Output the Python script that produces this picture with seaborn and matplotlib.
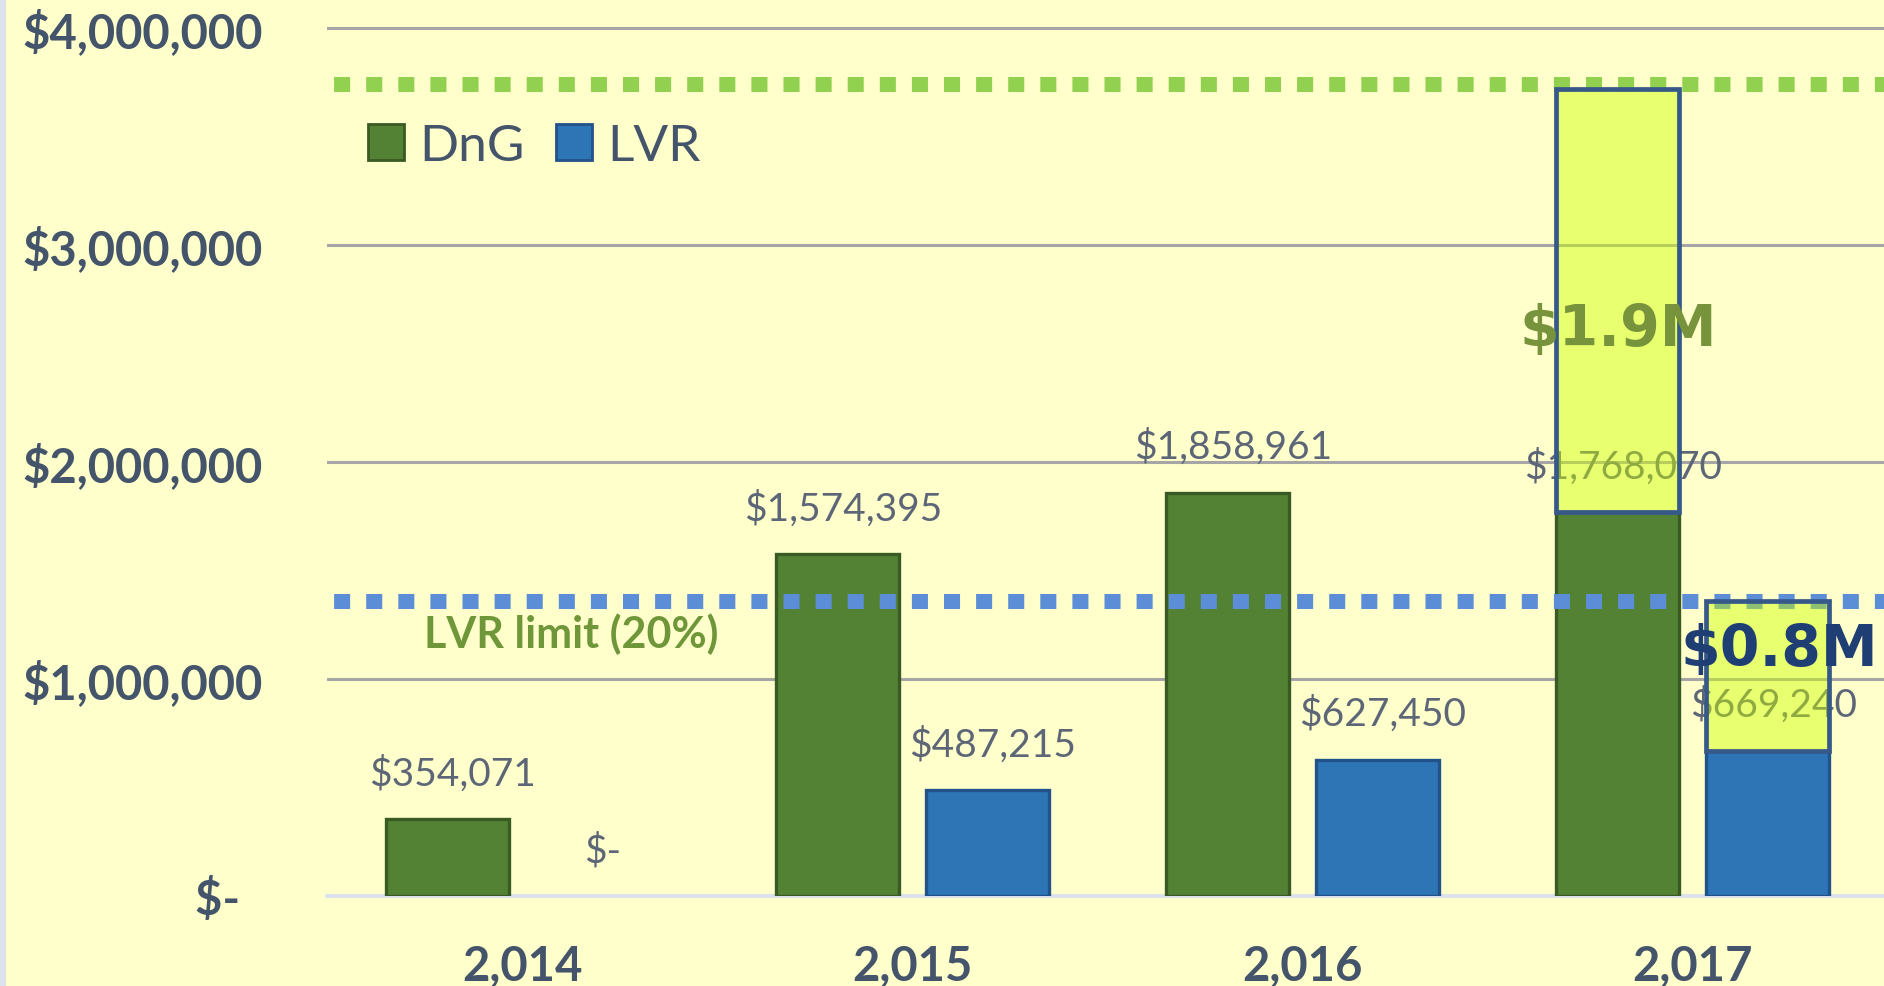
import matplotlib
matplotlib.use("Agg")
import matplotlib.pyplot as plt
import seaborn as sns
import pandas as pd
from matplotlib.patches import Patch, Rectangle
from matplotlib.ticker import FuncFormatter, FixedLocator

# ---- data ----
years = ["2,014", "2,015", "2,016", "2,017"]
series = ["DnG", "LVR"]
dng = [354071, 1574395, 1858961, 1768070]
lvr = [0, 487215, 627450, 669240]
dng_limit = 3740000
lvr_limit = 1360000
gap_tops = [3720000, 1360000]
gap_labels = ["$1.9M", "$0.8M"]
lvr_limit_label = "LVR limit (20%)"
yticks = [0, 1000000, 2000000, 3000000, 4000000]

# ---- style ----
BG = "#FFFFCC"
GREEN = "#548235"
GREEN_EDGE = "#3A5A24"
BLUE = "#2E75B6"
BLUE_EDGE = "#21528A"
TICK_COL = "#44546A"
LABEL_COL = "#5D6677"

sns.set_theme(style="white")
plt.rcParams['font.family'] = ['Lato', 'DejaVu Sans']

df = pd.DataFrame({
    "year": years * 2,
    "series": [series[0]] * len(years) + [series[1]] * len(years),
    "value": dng + lvr,
})

fig = plt.figure(figsize=(18.84, 9.87), dpi=100, facecolor=BG)
fig.patches.append(Rectangle((0, 0), 6 / 1884, 1, transform=fig.transFigure,
                             facecolor="#DCE1EB", edgecolor="none", zorder=0))
ax = fig.add_axes([327 / 1884, 90 / 987, 1 - 327 / 1884, 897 / 987])
ax.set_facecolor(BG)

sns.barplot(data=df, x="year", y="value", hue="series", order=years,
            hue_order=series, palette={"DnG": GREEN, "LVR": BLUE},
            width=0.768, gap=0.18, errorbar=None, legend=False,
            saturation=1, ax=ax, zorder=3)

conts = list(ax.containers)
edges = [GREEN_EDGE, BLUE_EDGE]
values = [dng, lvr]
for ci, cont in enumerate(conts):
    for bar, v in zip(cont.patches, values[ci]):
        bar.set_edgecolor(edges[ci])
        bar.set_linewidth(2.4)
        if v == 0:
            bar.set_visible(False)
        x = bar.get_x() + bar.get_width() / 2
        txt = "$-" if v == 0 else f"${v:,.0f}"
        ax.annotate(txt, (x, v), xytext=(4, 25), textcoords="offset points",
                    ha="center", va="baseline", fontsize=28, color=LABEL_COL,
                    zorder=4)

# gap boxes on the last year
last = len(years) - 1
centers = []
for ci, cont in enumerate(conts):
    bar = cont.patches[last]
    x = bar.get_x() + bar.get_width() / 2
    centers.append(x)
    v = values[ci][last]
    ax.bar(x, gap_tops[ci] - v, bottom=v, width=bar.get_width(),
           color=(0.8, 1.0, 0.0, 0.45), edgecolor="#37598A", linewidth=3.4,
           zorder=6)

# gap labels
ax.text(centers[0], 2610000, gap_labels[0], ha="center", va="center",
        fontsize=41, fontweight="bold", color="#77933C", family="DejaVu Sans",
        zorder=8)
ax.text(centers[1] + 0.03, 1134000, gap_labels[1], ha="center", va="center",
        fontsize=41, fontweight="bold", color="#1F3F74", family="DejaVu Sans",
        zorder=8)

# limit lines
ax.axhline(dng_limit, color="#92D050", lw=10.8, ls=(1.7, (1.07, 1.07)),
           dash_capstyle="butt", zorder=5)
ax.axhline(lvr_limit, color="#5B8ED6", lw=10.8, ls=(1.7, (1.07, 1.07)),
           dash_capstyle="butt", zorder=5)
ax.text(0.126, 1147000, lvr_limit_label, ha="center", va="baseline",
        fontsize=31, fontweight="bold", color="#70963A", zorder=4)

# axes formatting
ax.set_xlim(-0.5, 3.49)
ax.set_ylim(0, 897 / 217 * 1e6)
ax.yaxis.set_major_locator(FixedLocator(yticks))
ax.yaxis.set_major_formatter(FuncFormatter(
    lambda v, p: "$-  " if v == 0 else f"${v:,.0f}"))
ax.set_axisbelow(True)
ax.yaxis.grid(True, color="#A6A6A6", lw=2.2)
ax.xaxis.grid(False)
ax.axhline(0, color="#DCE1EA", lw=3, zorder=2.5, clip_on=False)
for s in ax.spines.values():
    s.set_visible(False)
ax.set_xlabel("")
ax.set_ylabel("")
ax.tick_params(axis="y", length=0, pad=46, labelsize=34, labelcolor=TICK_COL)
ax.tick_params(axis="x", length=0, pad=34, labelsize=34, labelcolor=TICK_COL)
for lab in ax.get_yticklabels() + ax.get_xticklabels():
    lab.set_fontweight("bold")

# legend
handles = [Patch(facecolor=GREEN, edgecolor=GREEN_EDGE, lw=2, label=series[0]),
           Patch(facecolor=BLUE, edgecolor=BLUE_EDGE, lw=2, label=series[1])]
fig.legend(handles=handles, loc="center left",
           bbox_to_anchor=(368 / 1884, 1 - 147 / 987), ncol=2, frameon=False,
           fontsize=37, handlelength=0.7, handleheight=0.7, handletextpad=0.3,
           columnspacing=0.6, borderpad=0, borderaxespad=0,
           labelcolor=TICK_COL)

fig.savefig("out.png", dpi=100, facecolor=BG)
